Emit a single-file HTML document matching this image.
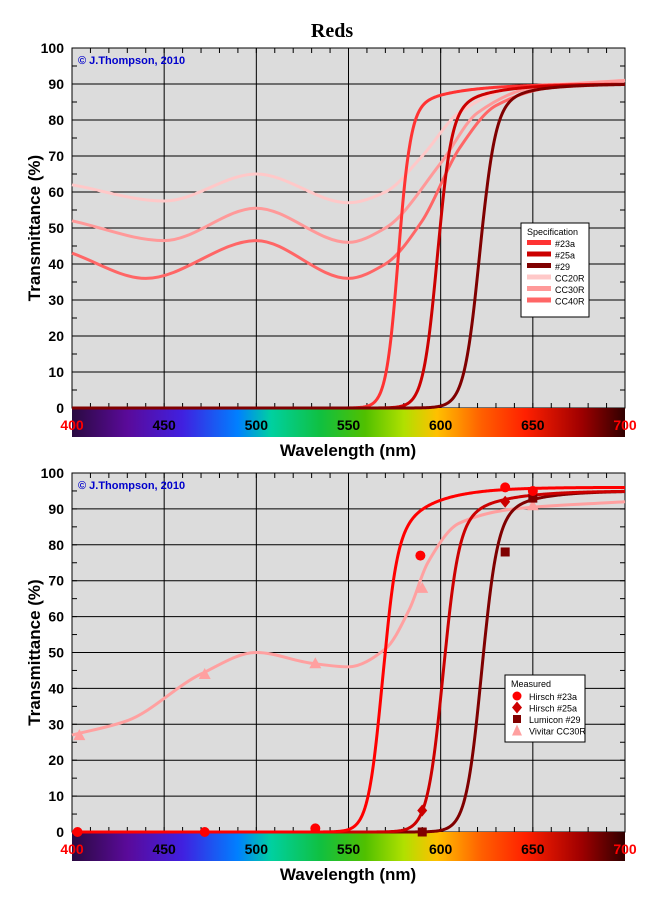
<!DOCTYPE html>
<html><head><meta charset="utf-8"><style>
body{margin:0;background:#fff;width:665px;height:900px;overflow:hidden;font-family:"Liberation Sans",Arial,sans-serif}
svg{display:block}
</style></head><body>
<svg id="s" width="665" height="900" xmlns="http://www.w3.org/2000/svg" font-family="Liberation Sans, Arial, sans-serif">
<defs>
<linearGradient id="spec" x1="0" x2="1" y1="0" y2="0">
<stop offset="0" stop-color="#2a0a40"/>
<stop offset="0.1" stop-color="#5a0a9a"/>
<stop offset="0.2" stop-color="#4020e0"/>
<stop offset="0.3" stop-color="#0080ff"/>
<stop offset="0.36" stop-color="#00d0a0"/>
<stop offset="0.45" stop-color="#10c040"/>
<stop offset="0.53" stop-color="#50c000"/>
<stop offset="0.6" stop-color="#b0e000"/>
<stop offset="0.66" stop-color="#ffc000"/>
<stop offset="0.74" stop-color="#ff6000"/>
<stop offset="0.82" stop-color="#ff2000"/>
<stop offset="0.92" stop-color="#a00000"/>
<stop offset="1" stop-color="#300000"/>
</linearGradient>
</defs>
<text x="332" y="37" text-anchor="middle" font-family="Liberation Serif, serif" font-weight="bold" font-size="20">Reds</text>
</svg>
<script>
const S=document.getElementById('s'),NS='http://www.w3.org/2000/svg';
function el(t,a,txt){const e=document.createElementNS(NS,t);for(const k in a)e.setAttribute(k,a[k]);if(txt!==undefined)e.textContent=txt;S.appendChild(e);return e;}
function mono(p){const n=p.length,dx=[],m=[],t=[];
 for(let i=0;i<n-1;i++){dx[i]=p[i+1][0]-p[i][0];m[i]=(p[i+1][1]-p[i][1])/dx[i];}
 t[0]=m[0];t[n-1]=m[n-2];
 for(let i=1;i<n-1;i++){if(m[i-1]*m[i]<=0)t[i]=0;else{const w1=2*dx[i]+dx[i-1],w2=dx[i]+2*dx[i-1];t[i]=(w1+w2)/(w1/m[i-1]+w2/m[i]);}}
 let d='M'+p[0][0]+','+p[0][1];
 for(let i=0;i<n-1;i++){const h=dx[i]/3;d+=` C${p[i][0]+h},${p[i][1]+t[i]*h} ${p[i+1][0]-h},${p[i+1][1]-t[i+1]*h} ${p[i+1][0]},${p[i+1][1]}`;}
 return d;}
function lg(l0,w,A){return l=>A(l)/(1+Math.exp(-(l-l0)/w));}
function chart(top,bot,curves,markers,legend){
 const X0=72,X1=625;const px=l=>X0+(l-400)*(X1-X0)/300;const py=t=>bot-(bot-top)*t/100;
 el('rect',{x:X0,y:top,width:X1-X0,height:bot-top,fill:'#dcdcdc',stroke:'#000','stroke-width':1});
 for(let t=10;t<100;t+=10)el('line',{x1:X0,x2:X1,y1:py(t),y2:py(t),stroke:'#000','stroke-width':1});
 for(let l=450;l<700;l+=50)el('line',{x1:px(l),x2:px(l),y1:top,y2:bot,stroke:'#000','stroke-width':1});
 for(let l=410;l<700;l+=10){el('line',{x1:px(l),x2:px(l),y1:bot,y2:bot-5,stroke:'#000'});el('line',{x1:px(l),x2:px(l),y1:top,y2:top+5,stroke:'#000'});}
 for(let t=5;t<100;t+=5){el('line',{x1:X0,x2:X0+5,y1:py(t),y2:py(t),stroke:'#000'});el('line',{x1:X1,x2:X1-5,y1:py(t),y2:py(t),stroke:'#000'});}
 for(let t=0;t<=100;t+=10)el('text',{x:X0-8,y:py(t)+5,'text-anchor':'end','font-size':14,'font-weight':'bold'},t);
 el('text',{x:78,y:top+16,'font-size':11,fill:'#0000cc','font-weight':'bold'},'© J.Thompson, 2010');
 el('rect',{x:X0,y:bot,width:X1-X0,height:29,fill:'url(#spec)'});
 for(let l=400;l<=700;l+=50)el('text',{x:px(l),y:bot+22,'text-anchor':'middle','font-size':14,'font-weight':'bold',fill:(l==400||l==700)?'#ff0000':'#000'},l);
 el('text',{x:348,y:bot+48,'text-anchor':'middle','font-size':17,'font-weight':'bold'},'Wavelength (nm)');
 el('text',{x:0,y:0,'text-anchor':'middle','font-size':17,'font-weight':'bold',transform:`translate(40,${(top+bot)/2}) rotate(-90)`},'Transmittance (%)');
 for(const c of curves){
  if(c.f){let pts=[];for(let l=400;l<=700;l+=0.5)pts.push(px(l).toFixed(2)+','+py(c.f(l)).toFixed(2));
   el('polyline',{points:pts.join(' '),fill:'none',stroke:c.c,'stroke-width':3});}
  else{const p=c.p.map(q=>[px(q[0]),py(q[1])]);el('path',{d:mono(p),fill:'none',stroke:c.c,'stroke-width':3});}}
 for(const m of markers){for(const q of m.p){const x=px(q[0]),y=py(q[1]);
  if(m.s=='c')el('circle',{cx:x,cy:y,r:5,fill:m.c});
  else if(m.s=='d')el('polygon',{points:`${x},${y-6} ${x+5},${y} ${x},${y+6} ${x-5},${y}`,fill:m.c});
  else if(m.s=='s')el('rect',{x:x-4.5,y:y-4.5,width:9,height:9,fill:m.c});
  else el('polygon',{points:`${x},${y-6} ${x+6},${y+5} ${x-6},${y+5}`,fill:m.c});}}
 const L=legend;el('rect',{x:L.x,y:L.y,width:L.w,height:L.h,fill:'#fff',stroke:'#000'});
 el('text',{x:L.x+6,y:L.y+12,'font-size':9},L.title);
 L.items.forEach((it,i)=>{const y=L.y+24+i*11.5;
  if(it.s){const x=L.x+12;
   if(it.s=='c')el('circle',{cx:x,cy:y-3,r:4.5,fill:it.c});else if(it.s=='d')el('polygon',{points:`${x},${y-9} ${x+5},${y-3} ${x},${y+3} ${x-5},${y-3}`,fill:it.c});
   else if(it.s=='s')el('rect',{x:x-4,y:y-7,width:8,height:8,fill:it.c});else el('polygon',{points:`${x},${y-9} ${x+5},${y+2} ${x-5},${y+2}`,fill:it.c});
   el('text',{x:L.x+24,y:y+1,'font-size':9},it.n);}
  else{el('rect',{x:L.x+6,y:y-7,width:24,height:5,fill:it.c});el('text',{x:L.x+34,y:y,'font-size':9},it.n);}});
}
chart(48,408,[
 {c:'#ffc8c8',p:[[400,62],[450,57.5],[500,65],[550,57],[570,60],[590,70],[610,82],[640,89],[700,91]]},
 {c:'#ff9999',p:[[400,52],[450,46.5],[500,55.5],[550,46],[570,50],[600,68],[620,82],[650,89],[700,91]]},
 {c:'#ff6666',p:[[400,43],[440,36],[500,46.5],[550,36],[570,40],[590,52],[610,72],[630,84],[660,89],[700,90]]},
 {c:'#ff3333',f:lg(577,3.3,l=>90-6*Math.exp(-Math.max(0,l-583)/25))},
 {c:'#cc0000',f:lg(598,3.8,l=>90-8*Math.exp(-Math.max(0,l-600)/22))},
 {c:'#800000',f:lg(621,4.2,l=>90-6*Math.exp(-Math.max(0,l-625)/20))}
],[],{x:521,y:223,w:68,h:94,title:'Specification',items:[{c:'#ff3333',n:'#23a'},{c:'#cc0000',n:'#25a'},{c:'#800000',n:'#29'},{c:'#ffc8c8',n:'CC20R'},{c:'#ff9999',n:'CC30R'},{c:'#ff6666',n:'CC40R'}]});
chart(473,832,[
 {c:'#ffa0a0',p:[[400,27],[430,31],[470,44],[500,50],[530,47],[550,46],[570,51],[583,62],[593,75],[610,86],[640,90],[700,92]]},
 {c:'#800000',f:lg(622,4.2,l=>95-8*Math.exp(-Math.max(0,l-625)/20))},
 {c:'#cc0000',f:lg(601,4.2,l=>95-10*Math.exp(-Math.max(0,l-603)/22))},
 {c:'#ff0000',f:lg(568,3.8,l=>96-16*Math.exp(-Math.max(0,l-570)/20))}
],[
 {s:'t',c:'#ffa0a0',p:[[404,27],[472,44],[532,47],[590,68],[650,91]]},
 {s:'s',c:'#800000',p:[[590,0],[635,78],[650,93]]},
 {s:'d',c:'#cc0000',p:[[590,6],[635,92]]},
 {s:'c',c:'#ff0000',p:[[403,0],[472,0],[532,1],[589,77],[635,96],[650,95]]}
],{x:505,y:675,w:80,h:67,title:'Measured',items:[{s:'c',c:'#ff0000',n:'Hirsch #23a'},{s:'d',c:'#cc0000',n:'Hirsch #25a'},{s:'s',c:'#800000',n:'Lumicon #29'},{s:'t',c:'#ffa0a0',n:'Vivitar CC30R'}]});
</script>
</body></html>
